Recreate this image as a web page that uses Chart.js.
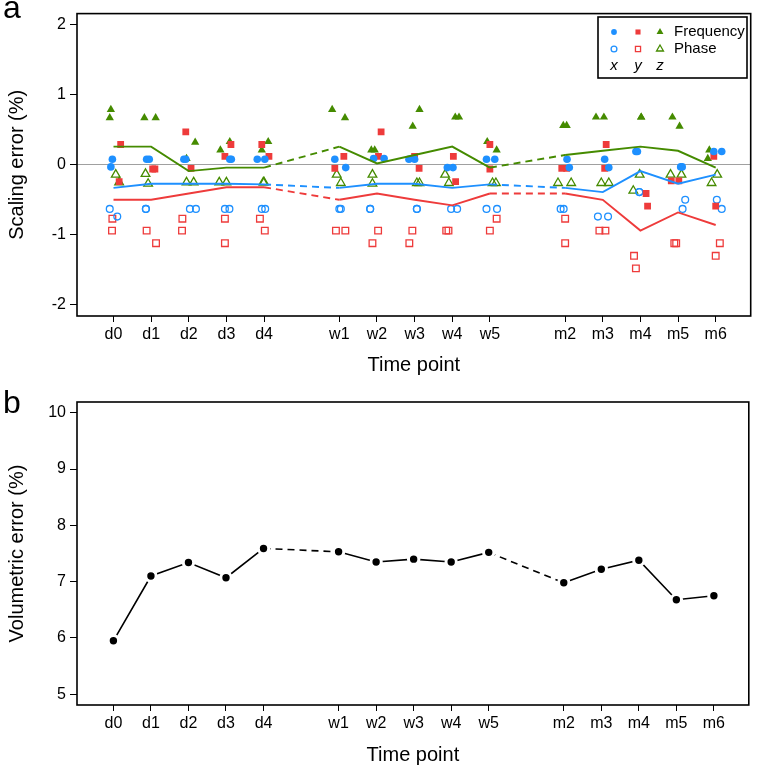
<!DOCTYPE html>
<html>
<head>
<meta charset="utf-8">
<script src="https://cdn.jsdelivr.net/npm/chart.js@4.4.0/dist/chart.umd.min.js"></script>
<style>
  body { margin: 0; background: #fff; }
  #wrap { position: relative; width: 757px; height: 769px; font-family: "Liberation Sans", Arial, sans-serif; }
  .panel { position: absolute; left: 0; width: 757px; }
  .tag { position: absolute; font-size: 32px; line-height: 1; color: #000; }
</style>
</head>
<body>
<div id="wrap">
  <div class="panel" style="top:0;height:385px"><canvas id="scaleChart" width="757" height="385"></canvas></div>
  <div class="panel" style="top:385px;height:384px"><canvas id="volChart" width="757" height="384"></canvas></div>
  <div class="tag" style="left:3px;top:-9px">a</div>
  <div class="tag" style="left:3px;top:386px">b</div>
</div>
<script>
// ==============================
// DATA
// ==============================
const timeLabels = ["d0", "d1", "d2", "d3", "d4", "w1", "w2", "w3", "w4", "w5", "m2", "m3", "m4", "m5", "m6"];
const timePos = [0, 1, 2, 3, 4, 6, 7, 8, 9, 10, 12, 13, 14, 15, 16];
const gapAfter = [4, 9]; // dashed segment starts here

// two measurements per time point, with the small horizontal jitter seen in the figure
const freqX = [[0.08, -0.03], [0.08, 0.08], [0.08, 0.08], [0.08, 0.08], [0.08, 0.08], [0.08, -0.04], [0.09, 0.09], [0.08, 0.08], [-0.04, -0.04], [0.08, 0.08], [0.08, -0.04], [0.08, -0.04], [0.19, 0.19], [-0.03, -0.03], [0.19, 0.19]];
const freqXJit = [[-0.03, -0.07], [-0.12, -0.05], [-0.13, -0.08], [0.09, 0.13], [-0.18, 0.02], [-0.12, 0.17], [-0.09, 0.19], [-0.15, 0], [-0.13, 0.02], [-0.09, 0.13], [0.05, 0.11], [0.05, 0.16], [-0.12, -0.08], [0.07, 0.11], [-0.05, 0.16]];

const freqY = [[0.29, -0.24], [-0.06, -0.06], [0.47, -0.05], [0.12, 0.29], [0.29, 0.12], [0.12, -0.05], [0.47, 0.12], [0.12, -0.05], [0.12, -0.24], [0.29, -0.06], [-0.05, -0.05], [0.29, -0.05], [-0.41, -0.59], [-0.23, -0.23], [0.12, -0.59]];
const freqYJit = [[0.19, 0.15], [0.04, 0.1], [-0.08, 0.06], [-0.04, 0.12], [-0.06, 0.13], [0.12, -0.12], [0.11, 0.04], [0, 0.12], [0.03, 0.09], [0, 0], [-0.09, 0.04], [0.09, 0.05], [0.15, 0.19], [-0.18, 0.02], [-0.05, 0]];

const freqZ = [[0.79, 0.67], [0.67, 0.67], [0.32, 0.09], [0.21, 0.33], [0.21, 0.33], [0.79, 0.67], [0.21, 0.21], [0.79, 0.55], [0.68, 0.68], [0.33, 0.21], [0.56, 0.56], [0.68, 0.68], [0.68, 0.68], [0.68, 0.55], [0.21, 0.09]];
const freqZJit = [[-0.07, -0.1], [-0.18, 0.12], [0.17, -0.06], [-0.16, 0.09], [-0.06, 0.11], [-0.19, 0.15], [-0.15, -0.06], [0.13, -0.05], [0.08, 0.18], [-0.07, 0.18], [-0.05, 0.04], [-0.18, 0.03], [0.02, 0.02], [-0.15, 0.04], [-0.17, -0.21]];

const phaseX = [[-0.63, -0.74], [-0.63, -0.63], [-0.63, -0.63], [-0.63, -0.63], [-0.63, -0.63], [-0.63, -0.63], [-0.63, -0.63], [-0.63, -0.63], [-0.63, -0.63], [-0.63, -0.63], [-0.63, -0.63], [-0.74, -0.74], [-0.39, -0.39], [-0.63, -0.5], [-0.5, -0.63]];
const phaseXJit = [[-0.1, 0.1], [-0.14, -0.14], [0.03, 0.19], [-0.04, 0.08], [-0.06, 0.03], [0, 0.04], [-0.18, -0.18], [0.06, 0.06], [-0.03, 0.13], [-0.09, 0.19], [-0.12, -0.04], [-0.13, 0.14], [-0.03, -0.03], [0.12, 0.19], [0.03, 0.16]];

const phaseY = [[-0.77, -0.94], [-0.94, -1.12], [-0.77, -0.94], [-0.77, -1.12], [-0.77, -0.94], [-0.94, -0.94], [-0.94, -1.12], [-0.94, -1.12], [-0.94, -0.94], [-0.77, -0.94], [-0.77, -1.12], [-0.94, -0.94], [-1.3, -1.48], [-1.12, -1.12], [-1.12, -1.3]];
const phaseYJit = [[-0.03, -0.04], [-0.12, 0.13], [-0.17, -0.18], [-0.04, -0.04], [-0.11, 0.02], [-0.09, 0.16], [0.03, -0.12], [-0.06, -0.14], [-0.16, -0.1], [0.18, 0], [0, 0], [-0.09, 0.07], [-0.17, -0.12], [-0.1, -0.05], [0.11, 0]];

const phaseZ = [[-0.14, -0.25], [-0.13, -0.27], [-0.25, -0.25], [-0.25, -0.25], [-0.25, -0.25], [-0.14, -0.26], [-0.14, -0.27], [-0.26, -0.26], [-0.14, -0.26], [-0.26, -0.26], [-0.26, -0.26], [-0.26, -0.26], [-0.14, -0.37], [-0.14, -0.14], [-0.14, -0.26]];
const phaseZJit = [[0.06, 0.15], [-0.15, -0.08], [-0.06, 0.13], [-0.19, 0], [-0.02, 0], [-0.07, 0.04], [-0.12, -0.12], [0.06, 0.13], [-0.19, -0.09], [0.07, 0.16], [-0.19, 0.16], [-0.04, 0.16], [-0.02, -0.19], [-0.2, 0.09], [0.04, -0.11]];

// mean lines per axis
const meanX = [-0.33, -0.27, -0.27, -0.27, -0.28, -0.33, -0.27, -0.27, -0.33, -0.28, -0.33, -0.39, -0.09, -0.27, -0.14];
const meanY = [-0.5, -0.5, -0.41, -0.32, -0.32, -0.5, -0.41, -0.5, -0.58, -0.41, -0.41, -0.5, -0.94, -0.68, -0.86];
const meanZ = [0.26, 0.26, -0.09, -0.04, -0.04, 0.26, 0.02, 0.14, 0.26, -0.04, 0.14, 0.2, 0.26, 0.2, -0.04];

const volumetric = [5.95, 7.10, 7.34, 7.07, 7.59, 7.53, 7.35, 7.40, 7.35, 7.52, 6.98, 7.22, 7.38, 6.68, 6.75];

const scalingTicks = [-2, -1, 0, 1, 2];
const volTicks = [5, 6, 7, 8, 9, 10];

// ==============================
// STYLE
// ==============================
const BLUE = "#1E90FF";
const RED = "#EE3B3B";
const GREEN = "#458B00";
const FONT = "'Liberation Sans', Arial, sans-serif";

Chart.defaults.color = "#000";
Chart.defaults.font.family = FONT;
Chart.defaults.animation = false;

// ==============================
// HELPERS
// ==============================
function scatterPoints(vals, jit) {
  const out = [];
  vals.forEach((pair, i) => {
    pair.forEach((v, j) => out.push({ x: timePos[i] + jit[i][j], y: v }));
  });
  return out;
}

function linePoints(vals) {
  return timePos.map((x, i) => ({ x: x, y: vals[i] }));
}

function dashedGaps(ctx) {
  return gapAfter.includes(ctx.p0DataIndex) ? [7, 5] : undefined;
}

function markerSet(label, data, color, style, radius, filled) {
  return {
    label: label,
    data: data,
    pointStyle: style,
    pointRadius: radius,
    pointHoverRadius: radius,
    pointBackgroundColor: filled ? color : "rgba(0,0,0,0)",
    pointBorderColor: color,
    pointBorderWidth: filled ? 0 : 1.3,
    showLine: false
  };
}

function meanSet(label, vals, color) {
  return {
    label: label,
    data: linePoints(vals),
    showLine: true,
    borderColor: color,
    borderWidth: 1.9,
    pointRadius: 0,
    segment: { borderDash: dashedGaps }
  };
}

function xScale(height, titlePad) {
  return {
    type: "linear",
    min: -0.97,
    max: 16.93,
    afterBuildTicks: s => { s.ticks = timePos.map(v => ({ value: v })); },
    afterFit: s => { s.height = height; },
    ticks: {
      autoSkip: false,
      maxRotation: 0,
      padding: 3,
      font: { size: 16 },
      callback: v => timeLabels[timePos.indexOf(v)]
    },
    grid: { drawOnChartArea: false, tickColor: "#000", tickLength: 6, tickWidth: 1 },
    border: { display: false },
    title: { display: true, text: "Time point", font: { size: 20 }, padding: { top: 0, bottom: titlePad } }
  };
}

function yScale(min, max, tickVals, title, zeroLine) {
  return {
    min: min,
    max: max,
    afterBuildTicks: s => { s.ticks = tickVals.map(v => ({ value: v })); },
    afterFit: s => { s.width = 77; },
    ticks: { padding: 4, font: { size: 16 } },
    grid: {
      drawOnChartArea: zeroLine,
      color: c => (zeroLine && c.tick && c.tick.value === 0) ? "#a0a0a0" : "rgba(0,0,0,0)",
      lineWidth: 1,
      tickColor: "#000",
      tickLength: 7,
      tickWidth: 1
    },
    border: { display: false },
    title: { display: true, text: title, font: { size: 20 }, padding: { top: 5, bottom: 0 } }
  };
}

// frame around the plotting region
const boxPlugin = {
  id: "frameBox",
  afterDraw(chart) {
    const a = chart.chartArea;
    const ctx = chart.ctx;
    ctx.save();
    ctx.strokeStyle = "#000";
    ctx.lineWidth = 1.6;
    ctx.strokeRect(a.left, a.top, a.right - a.left, a.bottom - a.top);
    ctx.restore();
  }
};

// the little 3x3 key in the corner of panel a
function drawMarker(ctx, style, x, y, r, color, filled) {
  ctx.beginPath();
  if (style === "circle") {
    ctx.arc(x, y, r, 0, Math.PI * 2);
  } else if (style === "rect") {
    const s = r * Math.SQRT1_2;
    ctx.rect(x - s, y - s, 2 * s, 2 * s);
  } else {
    ctx.moveTo(x, y - r);
    ctx.lineTo(x + r * 0.866, y + r * 0.5);
    ctx.lineTo(x - r * 0.866, y + r * 0.5);
    ctx.closePath();
  }
  if (filled) {
    ctx.fillStyle = color;
    ctx.fill();
  } else {
    ctx.strokeStyle = color;
    ctx.lineWidth = 1.3;
    ctx.stroke();
  }
}

const keyPlugin = {
  id: "cornerKey",
  afterDraw(chart) {
    const ctx = chart.ctx;
    ctx.save();
    ctx.fillStyle = "#fff";
    ctx.fillRect(598, 17, 149, 61);
    ctx.strokeStyle = "#000";
    ctx.lineWidth = 1.6;
    ctx.strokeRect(598, 17, 149, 61);

    const cols = [614, 638, 660];
    const rows = [32, 49, 66];
    const styles = ["circle", "rect", "triangle"];
    const radii = [2.9, 3.6, 4.0];
    const colors = [BLUE, RED, GREEN];
    styles.forEach((st, i) => {
      drawMarker(ctx, st, cols[i], rows[0], radii[i], colors[i], true);
      drawMarker(ctx, st, cols[i], rows[1], radii[i], colors[i], false);
    });

    ctx.fillStyle = "#000";
    ctx.textBaseline = "middle";
    ctx.textAlign = "left";
    ctx.font = "15px " + FONT;
    ctx.fillText("Frequency", 674, rows[0]);
    ctx.fillText("Phase", 674, rows[1]);
    ctx.textAlign = "center";
    ctx.font = "italic 15px " + FONT;
    ["x", "y", "z"].forEach((t, i) => ctx.fillText(t, cols[i], rows[2]));
    ctx.restore();
  }
};

// ==============================
// PANEL a: SCALING ERROR
// ==============================
new Chart(document.getElementById("scaleChart"), {
  type: "scatter",
  data: {
    datasets: [
      meanSet("z mean", meanZ, GREEN),
      meanSet("y mean", meanY, RED),
      meanSet("x mean", meanX, BLUE),
      markerSet("Frequency x", scatterPoints(freqX, freqXJit), BLUE, "circle", 3.8, true),
      markerSet("Frequency y", scatterPoints(freqY, freqYJit), RED, "rect", 4.8, true),
      markerSet("Frequency z", scatterPoints(freqZ, freqZJit), GREEN, "triangle", 4.8, true),
      markerSet("Phase x", scatterPoints(phaseX, phaseXJit), BLUE, "circle", 3.4, false),
      markerSet("Phase y", scatterPoints(phaseY, phaseYJit), RED, "rect", 4.7, false),
      markerSet("Phase z", scatterPoints(phaseZ, phaseZJit), GREEN, "triangle", 5.0, false)
    ]
  },
  options: {
    responsive: false,
    layout: { padding: { top: 12, right: 5, left: 0, bottom: 0 } },
    plugins: { legend: { display: false }, tooltip: { enabled: false } },
    scales: {
      x: xScale(69, 8),
      y: yScale(-2.16, 2.16, scalingTicks, "Scaling error (%)", true)
    }
  },
  plugins: [boxPlugin, keyPlugin]
});

// ==============================
// PANEL b: VOLUMETRIC ERROR
// ==============================
new Chart(document.getElementById("volChart"), {
  type: "scatter",
  data: {
    datasets: [{
      label: "Volumetric error",
      data: linePoints(volumetric),
      showLine: true,
      borderColor: "#000",
      borderWidth: 1.6,
      pointStyle: "circle",
      pointRadius: 5.2,
      pointHoverRadius: 5.2,
      pointBackgroundColor: "#000",
      pointBorderColor: "#fff",
      pointBorderWidth: 3,
      segment: { borderDash: dashedGaps }
    }]
  },
  options: {
    responsive: false,
    layout: { padding: { top: 17, right: 5, left: 0, bottom: 0 } },
    plugins: { legend: { display: false }, tooltip: { enabled: false } },
    scales: {
      x: xScale(64, 2),
      y: yScale(4.81, 10.19, volTicks, "Volumetric error (%)", false)
    }
  },
  plugins: [boxPlugin]
});
</script>
</body>
</html>
